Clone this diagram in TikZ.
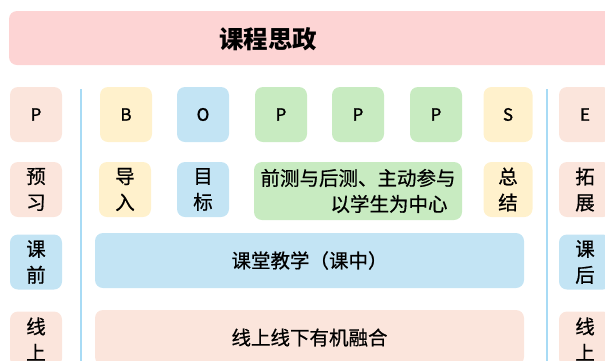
\documentclass[tikz,border=0pt]{standalone}
\usepackage{fontspec}
\setmainfont{Carlito}
\newfontfamily\cjk{Noto Sans CJK SC}[FakeBold=0.7]
\newfontfamily\cjkl{Noto Sans CJK SC}[FakeBold=1.2]
\newfontfamily\cjktitle{Noto Sans CJK SC}
\definecolor{ctitle}{HTML}{FDD4D4}
\definecolor{cpeach}{HTML}{FBE5DC}
\definecolor{cyellow}{HTML}{FFF1CC}
\definecolor{cblue}{HTML}{C3E4F4}
\definecolor{cgreen}{HTML}{C8EBC1}
\definecolor{cline}{HTML}{A8DBF5}
\begin{document}
\begin{tikzpicture}[x=1pt,y=-1pt,
  bx/.style={rounded corners=8pt, inner sep=0pt, minimum height=55pt, text=black, align=center},
  small/.style={bx, minimum width=52pt},
  letter/.style={small, font=\cjkl\fontsize{17}{20}\selectfont},
  cjkt/.style={font=\cjk\fontsize{19.5}{26}\selectfont},
  vline/.style={draw=cline, line width=2pt}]
\useasboundingbox (0,0) rectangle (605,360);
\clip (0,0) rectangle (605,360);
% title
\node[bx, fill=ctitle, minimum width=631pt, minimum height=54pt] (title) at (324.5,38) {};
\node[font=\cjktitle\bfseries\fontsize{24.5}{28}\selectfont, inner sep=0pt] (titletext) at (268,39.5) {课程思政};
% separators
\coordinate (l1t) at (81,89); \coordinate (l1b) at (81,365);
\coordinate (l2t) at (547,89); \coordinate (l2b) at (547,365);
\draw[vline] (l1t) -- (l1b);
\draw[vline] (l2t) -- (l2b);
% row 1
\node[letter, fill=cpeach] (r1p) at (36,114.5) {P};
\node[letter, fill=cyellow] (r1b) at (126,114.5) {B};
\node[letter, fill=cblue] (r1o) at (203,114.5) {O};
\node[letter, fill=cgreen] (r1p1) at (281,114.5) {P};
\node[letter, fill=cgreen] (r1p2) at (358,114.5) {P};
\node[letter, fill=cgreen] (r1p3) at (436,114.5) {P};
\node[letter, fill=cyellow, minimum width=49pt] (r1s) at (508,114.5) {S};
\node[letter, fill=cpeach] (r1e) at (585,114.5) {E};
% row 2
\node[small, cjkt, fill=cpeach] (r2a) at (36,189.5) {预\\习};
\node[small, cjkt, fill=cyellow] (r2b) at (125,189.5) {导\\入};
\node[small, cjkt, fill=cblue] (r2c) at (203,189.5) {目\\标};
\node[bx, cjkt, fill=cgreen, minimum width=208pt, minimum height=58pt, align=right] (r2d) at (358,191) {前测与后测、主动参与\\以学生为中心\hspace*{8pt}};
\node[small, cjkt, fill=cyellow, minimum width=49pt] (r2e) at (508,189.5) {总\\结};
\node[small, cjkt, fill=cpeach] (r2f) at (585,189.5) {拓\\展};
% row 3
\node[small, cjkt, fill=cblue] (r3a) at (36,262) {课\\前};
\node[bx, cjkt, fill=cblue, minimum width=429pt] (r3b) at (309.5,260.5) {课堂教学（课中）};
\node[small, cjkt, fill=cblue] (r3c) at (585,262) {课\\后};
% row 4
\node[small, cjkt, fill=cpeach] (r4a) at (36,339) {线\\上};
\node[bx, cjkt, fill=cpeach, minimum width=429pt] (r4b) at (309.5,337.5) {线上线下有机融合};
\node[small, cjkt, fill=cpeach] (r4c) at (585,339) {线\\上};
\end{tikzpicture}
\end{document}
